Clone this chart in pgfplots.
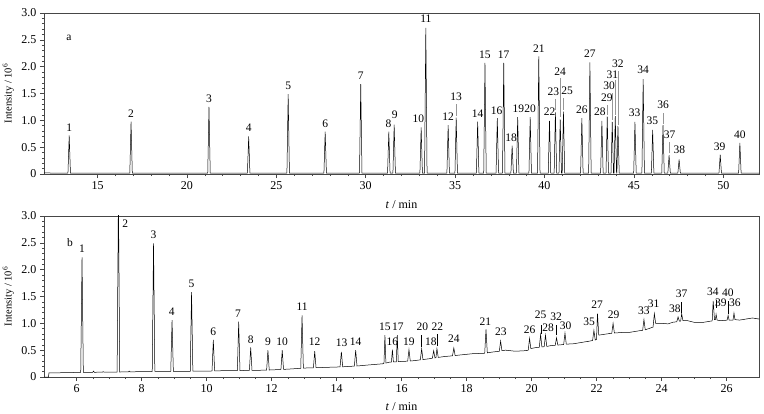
\documentclass[border=0pt]{standalone}
\usepackage{pgfplots}
\pgfplotsset{compat=1.18}
\usepackage{fontspec}
\setmainfont{Liberation Serif}
\definecolor{axgray}{RGB}{70,70,70}
\definecolor{leader}{RGB}{150,150,150}
\tikzset{lab/.style={anchor=south, inner sep=0pt, font={\fontsize{11.5}{13}\selectfont}}}
\pgfplotsset{
  chrom/.style={
    scale only axis, width=715pt, height=161pt,
    axis line style={axgray, line width=0.6pt},
    tick style={axgray, line width=0.5pt},
    tick align=outside, tick pos=left,
    major tick length=4pt, minor tick length=2pt,
    ymin=0, ymax=3,
    ytick={0,0.5,1,1.5,2,2.5,3},
    yticklabels={0,0.5,1.0,1.5,2.0,2.5,3.0},
    minor y tick num=4,
    /pgf/number format/assume math mode=true,
    ticklabel style={font={\fontsize{12}{14}\selectfont}},
    ylabel={Intensity / 10\textsuperscript{6}},
    ylabel style={at={(axis description cs:-0.050,0.5)}, anchor=center, font={\fontsize{10.5}{12}\selectfont}},
    xlabel={\textit{t} / min},
    xlabel style={font={\fontsize{12}{14}\selectfont}},
    clip=true,
  },
}
\begin{document}
\begin{tikzpicture}[x=1pt,y=1pt]
\useasboundingbox (0,0) rectangle (764,413);
% ---------------- panel a ----------------
\begin{axis}[chrom, at={(44pt,239pt)}, anchor=south west,
  xmin=12, xmax=52, xtick={15,20,...,50}, minor x tick num=4,
  xlabel style={at={(axis description cs:0.5,-0.193)}, anchor=center}]
\addplot[black, line width=0.5pt] coordinates {
(12,0.02)(13.0,0.016)
(13.34,0.015)(13.41,0.72)(13.48,0.015)
(16.80,0.015)(16.87,0.975)(16.94,0.015)
(21.16,0.015)(21.23,1.25)(21.30,0.015)
(23.38,0.015)(23.45,0.70)(23.52,0.015)
(25.59,0.015)(25.66,1.49)(25.73,0.015)
(27.66,0.015)(27.73,0.79)(27.80,0.015)
(29.65,0.015)(29.72,1.675)(29.79,0.015)
(31.22,0.015)(31.29,0.79)(31.36,0.015)
(31.52,0.015)(31.59,0.92)(31.66,0.015)
(33.03,0.015)(33.10,0.87)(33.17,0.015)
(33.29,0.015)(33.36,2.725)(33.43,0.015)
(34.54,0.015)(34.61,0.91)(34.68,0.015)
(34.99,0.015)(35.06,1.05)(35.13,0.015)
(36.19,0.015)(36.26,0.975)(36.33,0.015)
(36.60,0.015)(36.67,2.07)(36.74,0.015)
(37.29,0.015)(37.36,1.04)(37.43,0.015)
(37.65,0.015)(37.72,2.07)(37.79,0.015)
(38.12,0.015)(38.19,0.53)(38.26,0.015)
(38.43,0.015)(38.50,1.06)(38.57,0.015)
(39.13,0.015)(39.20,1.06)(39.27,0.015)
(39.61,0.015)(39.68,2.19)(39.75,0.015)
(40.21,0.015)(40.28,0.99)(40.35,0.015)
(40.54,0.015)(40.61,1.15)(40.68,0.015)
(40.81,0.015)(40.88,1.02)(40.95,0.015)
(40.99,0.015)(41.06,1.16)(41.13,0.015)
(42.02,0.015)(42.09,1.04)(42.16,0.015)
(42.47,0.015)(42.54,2.08)(42.61,0.015)
(43.14,0.015)(43.21,0.99)(43.28,0.015)
(43.44,0.015)(43.51,1.07)(43.58,0.015)
(43.72,0.015)(43.79,0.97)(43.86,0.015)
(43.89,0.015)(43.96,1.08)(44.03,0.015)
(44.05,0.015)(44.11,0.89)(44.18,0.015)
(44.99,0.015)(45.06,0.97)(45.13,0.015)
(45.45,0.015)(45.52,1.77)(45.59,0.015)
(45.98,0.015)(46.05,0.82)(46.12,0.015)
(46.56,0.015)(46.63,0.91)(46.70,0.015)
(46.90,0.015)(46.97,0.35)(47.04,0.015)
(47.46,0.015)(47.53,0.27)(47.60,0.015)
(49.76,0.015)(49.83,0.36)(49.90,0.015)
(50.86,0.015)(50.93,0.58)(51.00,0.015)
(52,0.015)
};
\node[lab] at (axis cs:13.4,2.49) {a};
\node[lab] at (axis cs:13.41,0.78) {1};
\node[lab] at (axis cs:16.87,1.04) {2};
\node[lab] at (axis cs:21.23,1.33) {3};
\node[lab] at (axis cs:23.45,0.78) {4};
\node[lab] at (axis cs:25.66,1.57) {5};
\node[lab] at (axis cs:27.73,0.86) {6};
\node[lab] at (axis cs:29.72,1.75) {7};
\node[lab] at (axis cs:31.27,0.86) {8};
\node[lab] at (axis cs:31.62,1.02) {9};
\node[lab] at (axis cs:32.95,0.96) {10};
\node[lab] at (axis cs:33.36,2.81) {11};
\node[lab] at (axis cs:34.61,0.99) {12};
\node[lab] at (axis cs:35.06,1.36) {13};
\node[lab] at (axis cs:36.26,1.05) {14};
\node[lab] at (axis cs:36.67,2.14) {15};
\node[lab] at (axis cs:37.32,1.11) {16};
\node[lab] at (axis cs:37.72,2.14) {17};
\node[lab] at (axis cs:38.13,0.60) {18};
\node[lab] at (axis cs:38.54,1.14) {19};
\node[lab] at (axis cs:39.20,1.14) {20};
\node[lab] at (axis cs:39.68,2.26) {21};
\node[lab] at (axis cs:40.28,1.08) {22};
\node[lab] at (axis cs:40.50,1.45) {23};
\node[lab] at (axis cs:40.88,1.84) {24};
\node[lab] at (axis cs:41.27,1.47) {25};
\node[lab] at (axis cs:42.09,1.13) {26};
\node[lab] at (axis cs:42.54,2.17) {27};
\node[lab] at (axis cs:43.10,1.08) {28};
\node[lab] at (axis cs:43.49,1.35) {29};
\node[lab] at (axis cs:43.62,1.56) {30};
\node[lab] at (axis cs:43.80,1.78) {31};
\node[lab] at (axis cs:44.11,1.97) {32};
\node[lab] at (axis cs:45.04,1.07) {33};
\node[lab] at (axis cs:45.52,1.86) {34};
\node[lab] at (axis cs:46.04,0.91) {35};
\node[lab] at (axis cs:46.63,1.22) {36};
\node[lab] at (axis cs:47.00,0.66) {37};
\node[lab] at (axis cs:47.54,0.37) {38};
\node[lab] at (axis cs:49.80,0.43) {39};
\node[lab] at (axis cs:50.93,0.66) {40};
\draw[leader, line width=0.5pt] (axis cs:35.06,1.08) -- (axis cs:35.06,1.30);
\draw[leader, line width=0.5pt] (axis cs:40.61,1.19) -- (axis cs:40.61,1.39);
\draw[leader, line width=0.8pt] (axis cs:40.88,1.07) -- (axis cs:40.88,1.78);
\draw[leader, line width=0.5pt] (axis cs:41.06,1.19) -- (axis cs:41.06,1.41);
\draw[leader, line width=0.5pt] (axis cs:43.51,1.10) -- (axis cs:43.51,1.29);
\draw[leader, line width=0.5pt] (axis cs:43.79,1.01) -- (axis cs:43.79,1.50);
\draw[leader, line width=0.5pt] (axis cs:43.96,1.10) -- (axis cs:43.96,1.75);
\draw[leader, line width=0.5pt] (axis cs:44.11,0.91) -- (axis cs:44.11,1.91);
\draw[leader, line width=0.5pt] (axis cs:46.63,0.93) -- (axis cs:46.63,1.13);
\draw[leader, line width=0.5pt] (axis cs:46.97,0.385) -- (axis cs:46.97,0.60);
\end{axis}
% ---------------- panel b ----------------
\begin{axis}[chrom, at={(44pt,36pt)}, anchor=south west,
  xmin=5, xmax=27, xtick={6,8,...,26}, minor x tick num=3,
  xlabel style={at={(axis description cs:0.5,-0.186)}, anchor=center}]
\addplot[black, line width=0.5pt] coordinates {
(5.0,0)(5.14,0)(5.15,0.075)
(6.0,0.085)
(6.13,0.087)(6.17,2.23)(6.21,0.088)
(6.5,0.088)(6.52,0.11)(6.55,0.088)
(6.8,0.09)(6.82,0.10)(6.85,0.09)
(7.0,0.09)
(7.25,0.092)(7.29,3.4)(7.33,0.093)
(7.6,0.095)(7.62,0.11)(7.65,0.096)
(8.0,0.10)
(8.33,0.102)(8.37,2.49)(8.41,0.103)
(8.90,0.105)(8.94,1.06)(8.98,0.105)
(9.50,0.107)(9.54,1.58)(9.58,0.108)
(10.0,0.11)
(10.17,0.112)(10.21,0.69)(10.25,0.115)
(10.5,0.117)
(10.95,0.12)(10.99,1.03)(11.03,0.12)
(11.32,0.123)(11.36,0.55)(11.40,0.124)
(11.6,0.125)
(11.85,0.128)(11.89,0.50)(11.93,0.13)
(12.29,0.14)(12.33,0.50)(12.37,0.142)
(12.6,0.15)
(12.90,0.163)(12.94,1.15)(12.98,0.166)
(13.29,0.172)(13.33,0.48)(13.37,0.173)
(13.7,0.18)
(14.11,0.188)(14.15,0.47)(14.19,0.19)
(14.55,0.203)(14.59,0.50)(14.63,0.205)
(15.0,0.225)(15.4,0.245)
(15.46,0.25)(15.49,0.78)(15.52,0.26)
(15.62,0.275)
(15.69,0.275)(15.72,0.51)(15.75,0.28)
(15.84,0.28)(15.87,0.78)(15.90,0.285)
(16.0,0.29)
(16.19,0.295)(16.23,0.51)(16.27,0.298)
(16.4,0.305)
(16.58,0.32)(16.62,0.525)(16.66,0.325)
(16.85,0.34)
(16.95,0.35)(16.99,0.49)(17.03,0.355)
(17.06,0.36)(17.09,0.53)(17.13,0.365)
(17.3,0.38)
(17.57,0.395)(17.61,0.54)(17.65,0.40)
(17.8,0.41)(18.2,0.435)(18.5,0.44)
(18.56,0.443)(18.60,0.885)(18.64,0.45)
(18.8,0.465)
(19.01,0.48)(19.05,0.67)(19.09,0.49)
(19.2,0.50)(19.5,0.48)(19.8,0.49)
(19.90,0.50)(19.94,0.72)(19.98,0.53)
(20.1,0.545)
(20.24,0.555)(20.28,0.79)(20.32,0.56)
(20.39,0.565)(20.43,0.78)(20.47,0.57)
(20.6,0.585)
(20.73,0.59)(20.77,0.73)(20.81,0.595)
(20.9,0.60)
(20.99,0.605)(21.03,0.82)(21.07,0.612)
(21.3,0.62)(21.6,0.65)(21.8,0.67)
(21.88,0.68)(21.92,0.87)(21.96,0.69)
(22.00,0.70)(22.03,1.18)(22.07,0.78)
(22.4,0.81)
(22.47,0.815)(22.51,1.0)(22.55,0.82)
(22.8,0.83)(23.0,0.83)(23.3,0.86)
(23.42,0.87)(23.46,1.07)(23.50,0.88)
(23.6,0.90)
(23.74,0.93)(23.78,1.18)(23.82,1.0)
(24.0,1.0)(24.2,0.99)(24.35,1.02)
(24.47,1.03)(24.51,1.12)(24.55,1.04)
(24.59,1.04)(24.62,1.18)(24.66,1.05)
(24.8,1.05)(25.0,1.02)(25.3,1.02)(25.5,1.04)
(25.56,1.045)(25.59,1.42)(25.63,1.07)
(25.66,1.07)(25.68,1.17)(25.71,1.06)
(25.8,1.05)(25.95,1.055)
(26.02,1.06)(26.05,1.15)(26.08,1.06)
(26.20,1.06)(26.23,1.19)(26.26,1.07)
(26.4,1.06)(26.6,1.08)(26.8,1.10)(27.0,1.08)
};
\node[lab] at (axis cs:5.80,2.42) {b};
\node[lab] at (axis cs:6.17,2.31) {1};
\node[lab] at (axis cs:7.50,2.78) {2};
\node[lab] at (axis cs:8.37,2.57) {3};
\node[lab] at (axis cs:8.93,1.14) {4};
\node[lab] at (axis cs:9.54,1.66) {5};
\node[lab] at (axis cs:10.21,0.77) {6};
\node[lab] at (axis cs:10.97,1.10) {7};
\node[lab] at (axis cs:11.36,0.625) {8};
\node[lab] at (axis cs:11.89,0.59) {9};
\node[lab] at (axis cs:12.33,0.59) {10};
\node[lab] at (axis cs:12.94,1.24) {11};
\node[lab] at (axis cs:13.33,0.575) {12};
\node[lab] at (axis cs:14.16,0.565) {13};
\node[lab] at (axis cs:14.59,0.58) {14};
\node[lab] at (axis cs:15.49,0.86) {15};
\node[lab] at (axis cs:15.72,0.59) {16};
\node[lab] at (axis cs:15.89,0.86) {17};
\node[lab] at (axis cs:16.23,0.59) {19};
\node[lab] at (axis cs:16.64,0.86) {20};
\node[lab] at (axis cs:16.90,0.575) {18};
\node[lab] at (axis cs:17.10,0.86) {22};
\node[lab] at (axis cs:17.61,0.64) {24};
\node[lab] at (axis cs:18.58,0.965) {21};
\node[lab] at (axis cs:19.06,0.77) {23};
\node[lab] at (axis cs:19.94,0.81) {26};
\node[lab] at (axis cs:20.28,1.09) {25};
\node[lab] at (axis cs:20.51,0.84) {28};
\node[lab] at (axis cs:20.76,1.045) {32};
\node[lab] at (axis cs:21.05,0.885) {30};
\node[lab] at (axis cs:21.77,0.95) {35};
\node[lab] at (axis cs:22.02,1.27) {27};
\node[lab] at (axis cs:22.53,1.09) {29};
\node[lab] at (axis cs:23.46,1.16) {33};
\node[lab] at (axis cs:23.76,1.29) {31};
\node[lab] at (axis cs:24.41,1.19) {38};
\node[lab] at (axis cs:24.62,1.48) {37};
\node[lab] at (axis cs:25.58,1.52) {34};
\node[lab] at (axis cs:25.83,1.30) {39};
\node[lab] at (axis cs:26.04,1.50) {40};
\node[lab] at (axis cs:26.26,1.30) {36};
\draw[black, line width=0.4pt] (axis cs:16.62,0.56) -- (axis cs:16.62,0.78);
\draw[black, line width=0.4pt] (axis cs:17.09,0.575) -- (axis cs:17.09,0.81);
\draw[black, line width=0.4pt] (axis cs:20.30,0.81) -- (axis cs:20.30,0.965);
\draw[black, line width=0.4pt] (axis cs:20.77,0.78) -- (axis cs:20.77,0.965);
\draw[black, line width=0.4pt] (axis cs:24.62,1.19) -- (axis cs:24.62,1.40);
\draw[black, line width=0.4pt] (axis cs:25.68,1.29) -- (axis cs:25.68,1.43);
\draw[black, line width=0.4pt] (axis cs:26.05,1.18) -- (axis cs:26.05,1.42);
\end{axis}
\end{tikzpicture}
\end{document}
